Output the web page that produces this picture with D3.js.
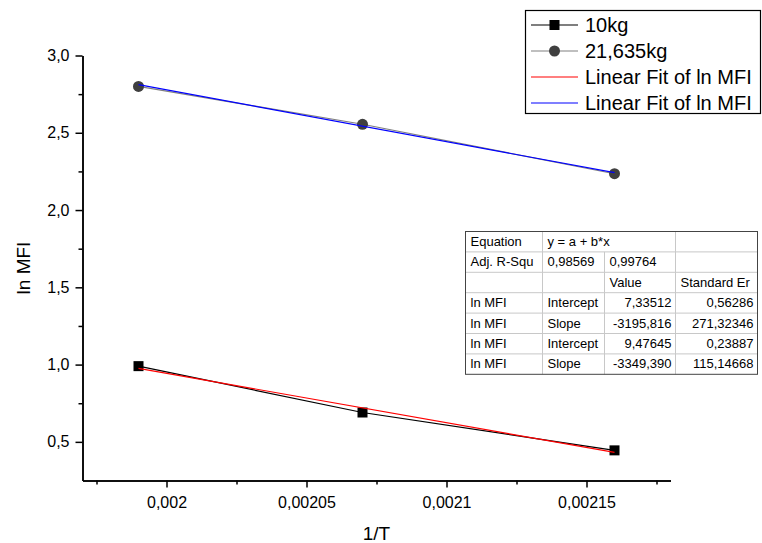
<!DOCTYPE html>
<html lang="en">
<head>
    <meta charset="UTF-8">
    <title>ln MFI vs 1/T</title>
    <script src="https://d3js.org/d3.v7.min.js"></script>
    <style>
        body {
            margin: 0;
            padding: 0;
            background: #fff;
            font-family: "Liberation Sans", Arial, sans-serif;
        }
        .axis path, .axis line {
            stroke: #000;
            stroke-width: 1.5px;
        }
        .axis text {
            font-family: "Liberation Sans", Arial, sans-serif;
            font-size: 16px;
            fill: #000;
        }
    </style>
</head>
<body>
    <svg id="chart" width="762" height="543"></svg>

    <script>
        // data
        const invT = [0.00199, 0.00207, 0.00216];
        const mfi10 = [0.99, 0.69, 0.445];
        const mfi21 = [2.80, 2.555, 2.235];

        // linear fit parameters (from the table)
        const fitIntercept = [7.33512, 9.47645];
        const fitSlope = [-3195.816, -3349.390];

        const xTicks = [0.002, 0.00205, 0.0021, 0.00215];
        const xTickLabels = ["0,002", "0,00205", "0,0021", "0,00215"];
        const xMinor = [0.001975, 0.002025, 0.002075, 0.002125, 0.002175];
        const yTicks = [0.5, 1.0, 1.5, 2.0, 2.5, 3.0];
        const yTickLabels = ["0,5", "1,0", "1,5", "2,0", "2,5", "3,0"];
        const yMinor = [0.75, 1.25, 1.75, 2.25, 2.75];

        const legendLabels = ["10kg", "21,635kg", "Linear Fit of ln MFI", "Linear Fit of ln MFI"];

        const tableRows = [
            ["Equation", "y = a + b*x", "", ""],
            ["Adj. R-Squ", "0,98569", "0,99764", ""],
            ["", "", "Value", "Standard Er"],
            ["ln MFI", "Intercept", "7,33512", "0,56286"],
            ["ln MFI", "Slope", "-3195,816", "271,32346"],
            ["ln MFI", "Intercept", "9,47645", "0,23887"],
            ["ln MFI", "Slope", "-3349,390", "115,14668"]
        ];

        const svg = d3.select("#chart");
        const pLeft = 82.5, pRight = 670.5, pTop = 55.5, pBottom = 480.5;

        const x = d3.scaleLinear().domain([0.00197, 0.00218]).range([pLeft, pRight]);
        const y = d3.scaleLinear().domain([0.25, 3.0]).range([pBottom, pTop]);

        // axes
        svg.append("g")
            .attr("class", "axis")
            .attr("transform", `translate(0,${pBottom})`)
            .call(d3.axisBottom(x).tickValues(xMinor).tickSize(4).tickSizeOuter(0).tickFormat(""));
        svg.append("g")
            .attr("class", "axis")
            .attr("transform", `translate(0,${pBottom})`)
            .call(d3.axisBottom(x).tickValues(xTicks).tickSize(7).tickSizeOuter(0)
                .tickPadding(9)
                .tickFormat((d, i) => xTickLabels[i]));

        svg.append("g")
            .attr("class", "axis")
            .attr("transform", `translate(${pLeft},0)`)
            .call(d3.axisLeft(y).tickValues(yMinor).tickSize(4).tickSizeOuter(0).tickFormat(""));
        svg.append("g")
            .attr("class", "axis")
            .attr("transform", `translate(${pLeft},0)`)
            .call(d3.axisLeft(y).tickValues(yTicks).tickSize(7).tickSizeOuter(0)
                .tickPadding(6)
                .tickFormat((d, i) => yTickLabels[i]));

        // axis titles
        svg.append("text")
            .attr("x", (pLeft + pRight) / 2)
            .attr("y", 540)
            .attr("text-anchor", "middle")
            .style("font-size", "19px")
            .text("1/T");
        svg.append("text")
            .attr("transform", `translate(30,${(pTop + pBottom) / 2}) rotate(-90)`)
            .attr("text-anchor", "middle")
            .style("font-size", "19px")
            .text("ln MFI");

        // data lines
        const line = d3.line().x(d => x(d[0])).y(d => y(d[1]));
        const s10 = invT.map((v, i) => [v, mfi10[i]]);
        const s21 = invT.map((v, i) => [v, mfi21[i]]);

        svg.append("path").datum(s10).attr("d", line)
            .attr("fill", "none").attr("stroke", "#000").attr("stroke-width", 1.2);
        svg.append("path").datum(s21).attr("d", line)
            .attr("fill", "none").attr("stroke", "#808080").attr("stroke-width", 1.2);

        svg.selectAll(".sq").data(s10).enter().append("rect")
            .attr("x", d => x(d[0]) - 5)
            .attr("y", d => y(d[1]) - 5)
            .attr("width", 10).attr("height", 10)
            .attr("fill", "#000");
        svg.selectAll(".ci").data(s21).enter().append("circle")
            .attr("cx", d => x(d[0]))
            .attr("cy", d => y(d[1]))
            .attr("r", 5.5)
            .attr("fill", "#3f3f3f");

        // fit lines
        const fitColors = ["#ff0000", "#0000ff"];
        const xExt = d3.extent(invT);
        fitIntercept.forEach((a, k) => {
            const pts = xExt.map(v => [v, a + fitSlope[k] * v]);
            svg.append("path").datum(pts).attr("d", line)
                .attr("fill", "none").attr("stroke", fitColors[k]).attr("stroke-width", 1.2);
        });

        // legend
        const lg = svg.append("g");
        lg.append("rect")
            .attr("x", 525.5).attr("y", 10.5)
            .attr("width", 235).attr("height", 103)
            .attr("fill", "#fff").attr("stroke", "#000").attr("stroke-width", 1.2);
        const legendLine = ["#000", "#808080", "#ff0000", "#0000ff"];
        legendLabels.forEach((lab, i) => {
            const cy = 25 + i * 26;
            lg.append("line")
                .attr("x1", 531).attr("x2", 578)
                .attr("y1", cy).attr("y2", cy)
                .attr("stroke", legendLine[i]).attr("stroke-width", 1.2);
            if (i === 0) {
                lg.append("rect").attr("x", 549.5).attr("y", cy - 5)
                    .attr("width", 10).attr("height", 10).attr("fill", "#000");
            } else if (i === 1) {
                lg.append("circle").attr("cx", 554.5).attr("cy", cy)
                    .attr("r", 5.5).attr("fill", "#3f3f3f");
            }
            lg.append("text")
                .attr("x", 585).attr("y", cy + 7)
                .style("font-size", "20px")
                .text(lab);
        });

        // fit table
        const colX = [465.5, 542.5, 604.5, 675.5, 757.5];
        const tTop = 231.5, rowH = 20.4;
        const tb = svg.append("g").style("font-size", "13px");
        tb.append("rect")
            .attr("x", colX[0]).attr("y", tTop)
            .attr("width", colX[4] - colX[0]).attr("height", rowH * tableRows.length)
            .attr("fill", "#fff");
        // horizontal lines
        for (let r = 1; r < tableRows.length; r++) {
            tb.append("line")
                .attr("x1", colX[0]).attr("x2", colX[4])
                .attr("y1", tTop + r * rowH).attr("y2", tTop + r * rowH)
                .attr("stroke", "#c8c8c8");
        }
        // vertical lines
        tableRows.forEach((row, r) => {
            [1, 2, 3].forEach(c => {
                if (r === 0 && c === 2) return; // merged cell
                tb.append("line")
                    .attr("x1", colX[c]).attr("x2", colX[c])
                    .attr("y1", tTop + r * rowH).attr("y2", tTop + (r + 1) * rowH)
                    .attr("stroke", "#c8c8c8");
            });
        });
        tb.append("rect")
            .attr("x", colX[0]).attr("y", tTop)
            .attr("width", colX[4] - colX[0]).attr("height", rowH * tableRows.length)
            .attr("fill", "none").attr("stroke", "#444").attr("stroke-width", 1);

        tableRows.forEach((row, r) => {
            const by = tTop + r * rowH + 14.5;
            row.forEach((txt, c) => {
                if (!txt) return;
                const numeric = r >= 3 && c >= 2;
                tb.append("text")
                    .attr("x", numeric ? colX[c + 1] - 4 : colX[c] + 5)
                    .attr("y", by)
                    .attr("text-anchor", numeric ? "end" : "start")
                    .text(txt);
            });
        });
    </script>
</body>
</html>
